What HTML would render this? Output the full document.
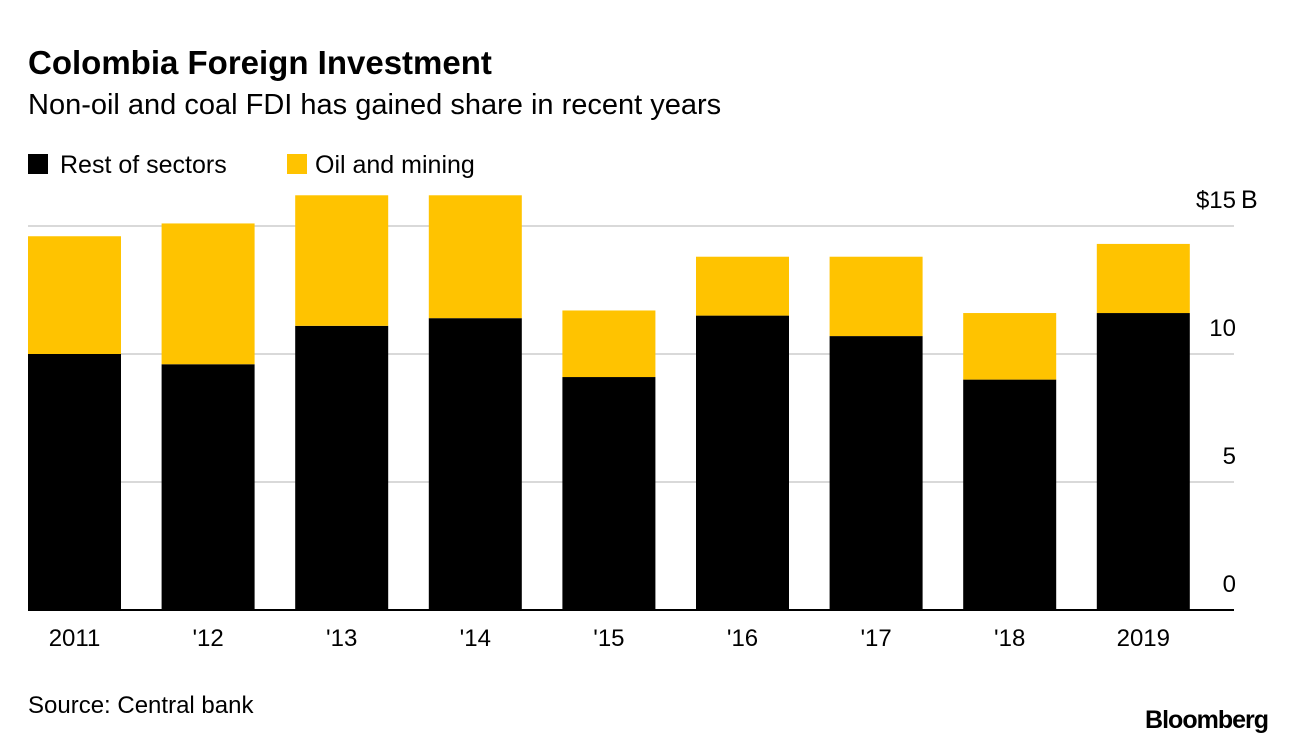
<!DOCTYPE html>
<html><head><meta charset="utf-8"><style>
body{margin:0;background:#fff;font-family:"Liberation Sans",sans-serif;}
#wrap{position:relative;width:1296px;height:744px;overflow:hidden;}
</style></head><body>
<div id="wrap">
<svg id="chart" width="1296" height="744">
<text x="28" y="74" font-size="33" font-weight="bold" fill="#000">Colombia Foreign Investment</text>
<text x="28" y="114" font-size="29" fill="#000">Non-oil and coal FDI has gained share in recent years</text>
<g>
<rect x="28" y="154" width="20" height="20" fill="#000"/>
<text x="60" y="173" font-size="25">Rest of sectors</text>
<rect x="287" y="154" width="20" height="20" fill="#ffc300"/>
<text x="315" y="173" font-size="25">Oil and mining</text>
</g>
<g id="grid"></g><g id="bars"></g><g id="xlabels"></g><g id="ylabels"></g>
<text x="28" y="713" font-size="24">Source: Central bank</text>
<text x="1268" y="728" font-size="25" font-weight="bold" text-anchor="end" letter-spacing="-1">Bloomberg</text>
</svg>
</div>
<script>
const categories=["2011","'12","'13","'14","'15","'16","'17","'18","2019"];
const restValues=[10.0,9.6,11.1,11.4,9.1,11.5,10.7,9.0,11.6];
const oilValues=[4.6,5.5,5.1,4.8,2.6,2.3,3.1,2.6,2.7];
const yTicks=[0,5,10,15];
const yTickLabels=["0","5","10","$15"];
const NS="http://www.w3.org/2000/svg";
const y0=610,pxPer=25.6,x0=28,step=133.6,bw=93;
function yScale(v){return y0-v*pxPer;}
function xScale(i){return x0+i*step;}
function mk(tag,attrs,parent){const e=document.createElementNS(NS,tag);for(const k in attrs)e.setAttribute(k,attrs[k]);parent.appendChild(e);return e;}
const grid=document.getElementById('grid'),bars=document.getElementById('bars'),xl=document.getElementById('xlabels'),yl=document.getElementById('ylabels');
yTicks.forEach((t,i)=>{
 if(t>0){const l=mk('line',{x1:28,x2:1234,y1:yScale(t),y2:yScale(t),stroke:'#d9d9d9','stroke-width':2},grid);
 
 }
 const tx=mk('text',{x:1236,y:yScale(t)-18,'font-size':24,'text-anchor':'end'},yl);
 tx.textContent=yTickLabels[i];
 
 
 if(t===15){const b=mk('text',{x:1241,y:yScale(t)-18,'font-size':25},yl);b.textContent='B';
 
 }
});
categories.forEach((c,i)=>{
 const x=xScale(i),r=restValues[i],o=oilValues[i];
 const b1=mk('rect',{x:x,y:yScale(r),width:bw,height:r*pxPer,fill:'#000'},bars);
 
 
 const b2=mk('rect',{x:x,y:yScale(r+o),width:bw,height:o*pxPer,fill:'#ffc300'},bars);
 
 
 const t=mk('text',{x:x+bw/2,y:646,'font-size':24,'text-anchor':'middle'},xl);
 t.textContent=c;
 
 
});
const base=mk('line',{x1:28,x2:1234,y1:y0,y2:y0,stroke:'#000','stroke-width':2},grid);


</script>
</body></html>
